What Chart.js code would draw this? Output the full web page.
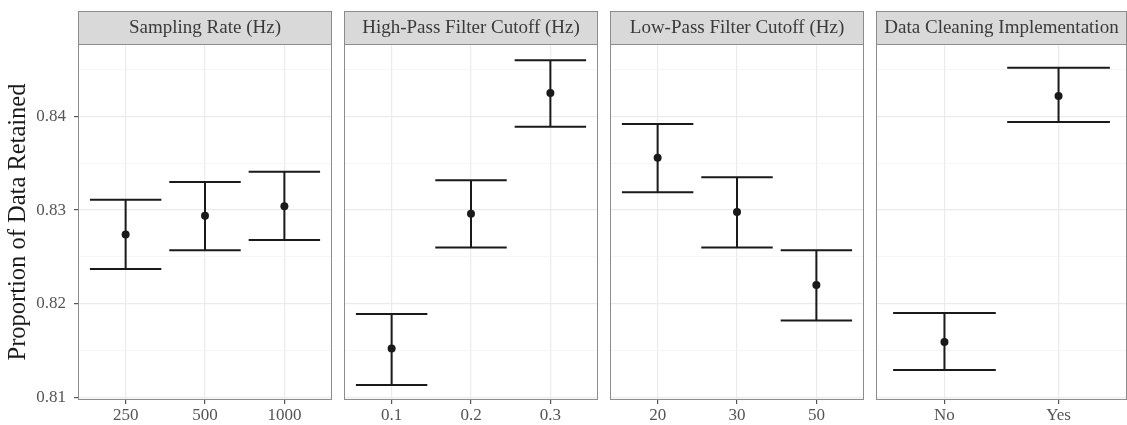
<!DOCTYPE html>
<html>
<head>
<meta charset="utf-8">
<script src="https://cdn.jsdelivr.net/npm/chart.js@4.4.0/dist/chart.umd.min.js"></script>
<style>
    html, body { margin: 0; padding: 0; background: #fff; }
    #wrap { position: relative; width: 1127px; height: 425px; overflow: hidden; }
    #wrap canvas { position: absolute; top: 0; }
</style>
</head>
<body>
<div id="wrap">
    <canvas id="panel-sampling"></canvas>
    <canvas id="panel-highpass"></canvas>
    <canvas id="panel-lowpass"></canvas>
    <canvas id="panel-cleaning"></canvas>
</div>
<script>
// Datos (media e intervalo por nivel)
const samplingLabels = ['250', '500', '1000'];
const samplingMean = [0.8274, 0.8294, 0.8304];
const samplingLower = [0.8237, 0.8257, 0.8268];
const samplingUpper = [0.8311, 0.8330, 0.8341];

const highPassLabels = ['0.1', '0.2', '0.3'];
const highPassMean = [0.8152, 0.8296, 0.8425];
const highPassLower = [0.8113, 0.8260, 0.8389];
const highPassUpper = [0.8189, 0.8332, 0.8460];

const lowPassLabels = ['20', '30', '50'];
const lowPassMean = [0.8356, 0.8298, 0.8220];
const lowPassLower = [0.8319, 0.8260, 0.8182];
const lowPassUpper = [0.8392, 0.8335, 0.8257];

const cleaningLabels = ['No', 'Yes'];
const cleaningMean = [0.8159, 0.8422];
const cleaningLower = [0.8129, 0.8394];
const cleaningUpper = [0.8190, 0.8452];

const yMajorTicks = [0.81, 0.82, 0.83, 0.84];
const yMinorTicks = [0.815, 0.825, 0.835, 0.845];
const yRange = [0.8097, 0.84775];

const FONT = "'Liberation Serif', 'DejaVu Serif', serif";
const INK = '#1a1a1a';

const isMajor = v => yMajorTicks.some(t => Math.abs(t - v) < 1e-9);

// Barras de error por debajo de los puntos
const errorBarPlugin = {
    id: 'errorBars',
    beforeDatasetsDraw(chart) {
        const ctx = chart.ctx;
        const xs = chart.scales.x;
        const ys = chart.scales.y;
        chart.data.datasets.forEach(ds => {
            ds.data.forEach((p, i) => {
                const lo = ys.getPixelForValue(ds.errLower[i]);
                const hi = ys.getPixelForValue(ds.errUpper[i]);
                const xc = xs.getPixelForValue(p.x);
                const x0 = xs.getPixelForValue(p.x - 0.45);
                const x1 = xs.getPixelForValue(p.x + 0.45);
                ctx.save();
                ctx.strokeStyle = INK;
                ctx.lineWidth = 2;
                ctx.beginPath();
                ctx.moveTo(x0, hi); ctx.lineTo(x1, hi);
                ctx.moveTo(x0, lo); ctx.lineTo(x1, lo);
                ctx.moveTo(xc, hi); ctx.lineTo(xc, lo);
                ctx.stroke();
                ctx.restore();
            });
        });
    }
};

// Cabecera gris (strip) y borde del panel
const facetPlugin = {
    id: 'facet',
    afterDraw(chart, args, opts) {
        const ctx = chart.ctx;
        const a = chart.chartArea;
        ctx.save();
        ctx.strokeStyle = '#8c8c8c';
        ctx.lineWidth = 1;
        ctx.strokeRect(a.left + 0.5, a.top + 0.5, a.right - a.left - 1, a.bottom - a.top - 1);

        const top = a.top - 33;
        ctx.fillStyle = '#d9d9d9';
        ctx.fillRect(a.left, top, a.right - a.left, 33);
        ctx.strokeRect(a.left + 0.5, top + 0.5, a.right - a.left - 1, 33);

        ctx.fillStyle = '#3a3a3a';
        ctx.font = '19px ' + FONT;
        ctx.textAlign = 'center';
        ctx.textBaseline = 'middle';
        ctx.fillText(opts.text, (a.left + a.right) / 2, top + 17);
        ctx.restore();
    }
};

function makePanel(id, left, width, title, labels, mean, lower, upper, firstPanel) {
    const canvas = document.getElementById(id);
    const axisW = firstPanel ? 78 : 0;
    const padL = firstPanel ? 0 : 2;
    const cw = axisW + padL + width + 2;
    canvas.width = cw;
    canvas.height = 425;
    canvas.style.left = (left - axisW - padL) + 'px';
    canvas.style.width = cw + 'px';
    canvas.style.height = '425px';

    return new Chart(canvas.getContext('2d'), {
        type: 'scatter',
        data: {
            datasets: [{
                data: mean.map((m, i) => ({ x: i + 1, y: m })),
                errLower: lower,
                errUpper: upper,
                pointRadius: 4,
                pointHoverRadius: 4,
                pointBackgroundColor: INK,
                pointBorderWidth: 0
            }]
        },
        options: {
            responsive: false,
            animation: false,
            layout: {
                autoPadding: false,
                padding: { top: 44, left: padL, right: 2, bottom: 0 }
            },
            plugins: {
                legend: { display: false },
                tooltip: { enabled: false },
                facet: { text: title }
            },
            scales: {
                x: {
                    type: 'linear',
                    min: 0.4,
                    max: labels.length + 0.6,
                    afterBuildTicks: s => { s.ticks = labels.map((_, i) => ({ value: i + 1 })); },
                    afterFit: s => {
                        s.height = 25;
                        s.paddingLeft = 0;
                        s.paddingRight = 0;
                    },
                    border: { display: false },
                    grid: { color: '#ebebeb', lineWidth: 1.2, tickLength: 4, tickColor: '#555' },
                    ticks: {
                        color: '#555555',
                        font: { family: FONT, size: 17 },
                        padding: 1,
                        maxRotation: 0,
                        autoSkip: false,
                        callback: (v, i) => labels[i]
                    }
                },
                y: {
                    type: 'linear',
                    min: yRange[0],
                    max: yRange[1],
                    afterBuildTicks: s => {
                        s.ticks = yMajorTicks.concat(yMinorTicks).sort((a, b) => a - b).map(v => ({ value: v }));
                    },
                    afterFit: s => {
                        s.width = axisW;
                        s.paddingTop = 0;
                        s.paddingBottom = 0;
                    },
                    border: { display: false },
                    grid: {
                        color: c => isMajor(c.tick.value) ? '#ebebeb' : '#f2f2f2',
                        lineWidth: c => isMajor(c.tick.value) ? 1.2 : 0.7,
                        drawTicks: firstPanel,
                        tickLength: 4,
                        tickColor: c => isMajor(c.tick.value) ? '#555' : 'rgba(0,0,0,0)'
                    },
                    ticks: {
                        display: firstPanel,
                        color: '#555555',
                        font: { family: FONT, size: 17 },
                        padding: 8,
                        callback: v => isMajor(v) ? v.toFixed(2) : ''
                    },
                    title: {
                        display: firstPanel,
                        text: 'Proportion of Data Retained',
                        color: INK,
                        font: { family: FONT, size: 24.5 },
                        padding: { top: 4, bottom: 0 }
                    }
                }
            }
        },
        plugins: [errorBarPlugin, facetPlugin]
    });
}

makePanel('panel-sampling', 78, 254, 'Sampling Rate (Hz)', samplingLabels, samplingMean, samplingLower, samplingUpper, true);
makePanel('panel-highpass', 344, 254, 'High-Pass Filter Cutoff (Hz)', highPassLabels, highPassMean, highPassLower, highPassUpper, false);
makePanel('panel-lowpass', 610, 254, 'Low-Pass Filter Cutoff (Hz)', lowPassLabels, lowPassMean, lowPassLower, lowPassUpper, false);
makePanel('panel-cleaning', 876, 251, 'Data Cleaning Implementation', cleaningLabels, cleaningMean, cleaningLower, cleaningUpper, false);
</script>
</body>
</html>
